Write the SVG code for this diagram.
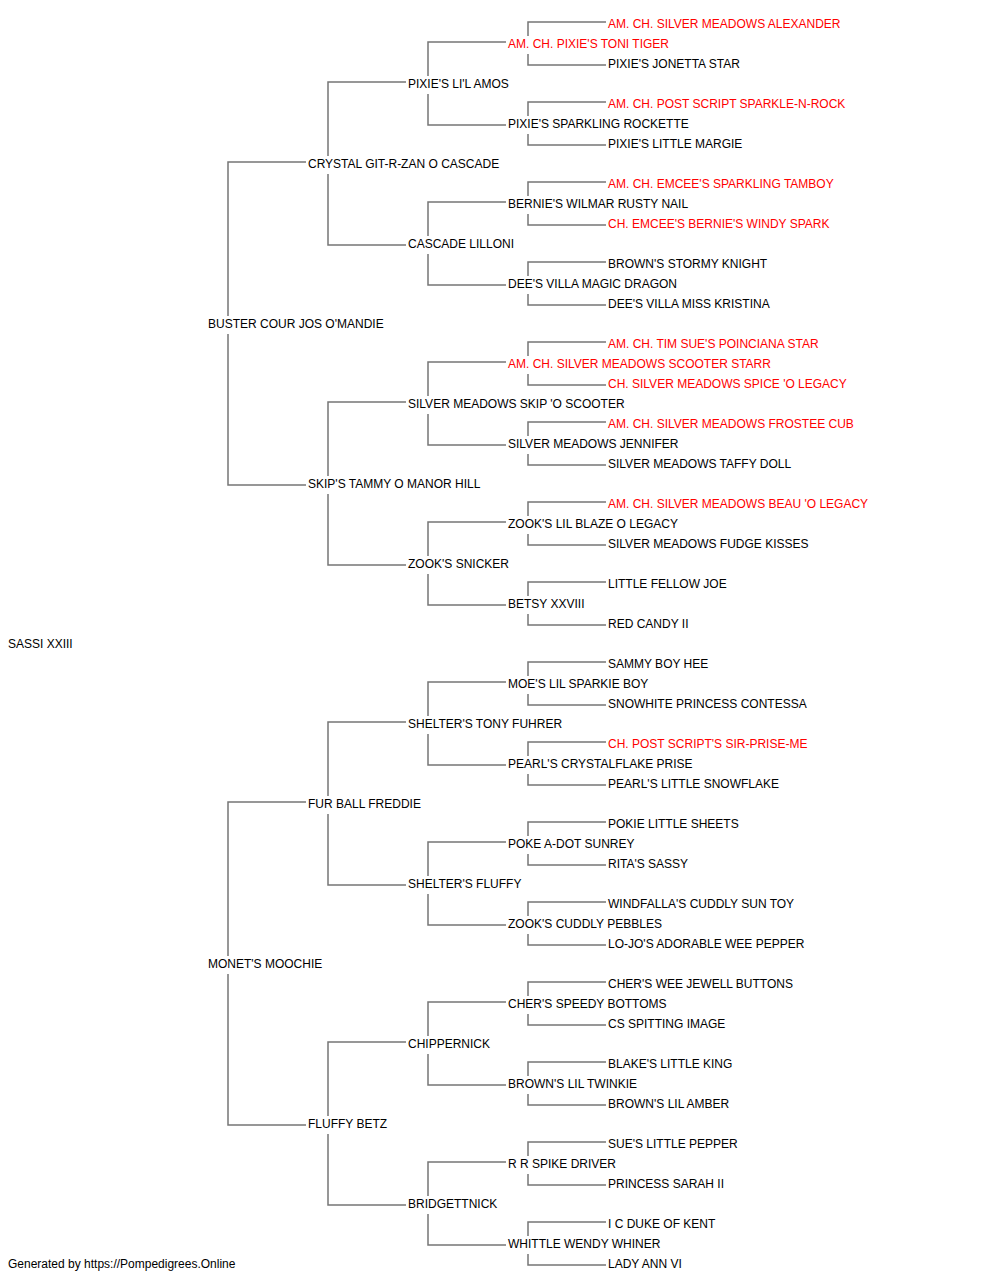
<svg xmlns="http://www.w3.org/2000/svg" width="1000" height="1280" viewBox="0 0 1000 1280">
<style>
text{font-family:"Liberation Sans",Arial,sans-serif;font-size:12px;fill:#000}
text.r{fill:#ff0000}
#connectors path{fill:none;stroke:#767676;stroke-width:1.5}
</style>
<rect width="1000" height="1280" fill="#fff"/>
<g id="connectors">
<path d="M228,316V162H306M228,334V485H306"/>
<path d="M228,956V802H306M228,974V1125H306"/>
<path d="M328,156V82H406M328,174V245H406"/>
<path d="M328,476V402H406M328,494V565H406"/>
<path d="M328,796V722H406M328,814V885H406"/>
<path d="M328,1116V1042H406M328,1134V1205H406"/>
<path d="M428,76V42H506M428,94V125H506"/>
<path d="M428,236V202H506M428,254V285H506"/>
<path d="M428,396V362H506M428,414V445H506"/>
<path d="M428,556V522H506M428,574V605H506"/>
<path d="M428,716V682H506M428,734V765H506"/>
<path d="M428,876V842H506M428,894V925H506"/>
<path d="M428,1036V1002H506M428,1054V1085H506"/>
<path d="M428,1196V1162H506M428,1214V1245H506"/>
<path d="M528,36V22H606M528,54V65H606"/>
<path d="M528,116V102H606M528,134V145H606"/>
<path d="M528,196V182H606M528,214V225H606"/>
<path d="M528,276V262H606M528,294V305H606"/>
<path d="M528,356V342H606M528,374V385H606"/>
<path d="M528,436V422H606M528,454V465H606"/>
<path d="M528,516V502H606M528,534V545H606"/>
<path d="M528,596V582H606M528,614V625H606"/>
<path d="M528,676V662H606M528,694V705H606"/>
<path d="M528,756V742H606M528,774V785H606"/>
<path d="M528,836V822H606M528,854V865H606"/>
<path d="M528,916V902H606M528,934V945H606"/>
<path d="M528,996V982H606M528,1014V1025H606"/>
<path d="M528,1076V1062H606M528,1094V1105H606"/>
<path d="M528,1156V1142H606M528,1174V1185H606"/>
<path d="M528,1236V1222H606M528,1254V1265H606"/>
</g>
<g id="n-sassi"><text x="8" y="648">SASSI XXIII</text></g>
<g id="n-buster"><text x="208" y="328">BUSTER COUR JOS O'MANDIE</text></g>
<g id="n-monet"><text x="208" y="968">MONET'S MOOCHIE</text></g>
<g id="n-crystal"><text x="308" y="168">CRYSTAL GIT-R-ZAN O CASCADE</text></g>
<g id="n-skips-tammy"><text x="308" y="488">SKIP'S TAMMY O MANOR HILL</text></g>
<g id="n-fur-ball"><text x="308" y="808">FUR BALL FREDDIE</text></g>
<g id="n-fluffy-betz"><text x="308" y="1128">FLUFFY BETZ</text></g>
<g id="n-lil-amos"><text x="408" y="88">PIXIE'S LI'L AMOS</text></g>
<g id="n-cascade-lilloni"><text x="408" y="248">CASCADE LILLONI</text></g>
<g id="n-skip-o-scooter"><text x="408" y="408">SILVER MEADOWS SKIP 'O SCOOTER</text></g>
<g id="n-zooks-snicker"><text x="408" y="568">ZOOK'S SNICKER</text></g>
<g id="n-tony-fuhrer"><text x="408" y="728">SHELTER'S TONY FUHRER</text></g>
<g id="n-shelters-fluffy"><text x="408" y="888">SHELTER'S FLUFFY</text></g>
<g id="n-chippernick"><text x="408" y="1048">CHIPPERNICK</text></g>
<g id="n-bridgettnick"><text x="408" y="1208">BRIDGETTNICK</text></g>
<g id="n-toni-tiger"><text class="r" x="508" y="48">AM. CH. PIXIE'S TONI TIGER</text></g>
<g id="n-sparkling-rockette"><text x="508" y="128">PIXIE'S SPARKLING ROCKETTE</text></g>
<g id="n-rusty-nail"><text x="508" y="208">BERNIE'S WILMAR RUSTY NAIL</text></g>
<g id="n-magic-dragon"><text x="508" y="288">DEE'S VILLA MAGIC DRAGON</text></g>
<g id="n-scooter-starr"><text class="r" x="508" y="368">AM. CH. SILVER MEADOWS SCOOTER STARR</text></g>
<g id="n-jennifer"><text x="508" y="448">SILVER MEADOWS JENNIFER</text></g>
<g id="n-lil-blaze"><text x="508" y="528">ZOOK'S LIL BLAZE O LEGACY</text></g>
<g id="n-betsy"><text x="508" y="608">BETSY XXVIII</text></g>
<g id="n-moes-sparkie"><text x="508" y="688">MOE'S LIL SPARKIE BOY</text></g>
<g id="n-crystalflake"><text x="508" y="768">PEARL'S CRYSTALFLAKE PRISE</text></g>
<g id="n-poke-a-dot"><text x="508" y="848">POKE A-DOT SUNREY</text></g>
<g id="n-cuddly-pebbles"><text x="508" y="928">ZOOK'S CUDDLY PEBBLES</text></g>
<g id="n-speedy-bottoms"><text x="508" y="1008">CHER'S SPEEDY BOTTOMS</text></g>
<g id="n-lil-twinkie"><text x="508" y="1088">BROWN'S LIL TWINKIE</text></g>
<g id="n-spike-driver"><text x="508" y="1168">R R SPIKE DRIVER</text></g>
<g id="n-wendy-whiner"><text x="508" y="1248">WHITTLE WENDY WHINER</text></g>
<g id="n-alexander"><text class="r" x="608" y="28">AM. CH. SILVER MEADOWS ALEXANDER</text></g>
<g id="n-jonetta"><text x="608" y="68">PIXIE'S JONETTA STAR</text></g>
<g id="n-sparkle-n-rock"><text class="r" x="608" y="108">AM. CH. POST SCRIPT SPARKLE-N-ROCK</text></g>
<g id="n-little-margie"><text x="608" y="148">PIXIE'S LITTLE MARGIE</text></g>
<g id="n-tamboy"><text class="r" x="608" y="188">AM. CH. EMCEE'S SPARKLING TAMBOY</text></g>
<g id="n-windy-spark"><text class="r" x="608" y="228">CH. EMCEE'S BERNIE'S WINDY SPARK</text></g>
<g id="n-stormy-knight"><text x="608" y="268">BROWN'S STORMY KNIGHT</text></g>
<g id="n-miss-kristina"><text x="608" y="308">DEE'S VILLA MISS KRISTINA</text></g>
<g id="n-poinciana"><text class="r" x="608" y="348">AM. CH. TIM SUE'S POINCIANA STAR</text></g>
<g id="n-spice-o-legacy"><text class="r" x="608" y="388">CH. SILVER MEADOWS SPICE 'O LEGACY</text></g>
<g id="n-frostee-cub"><text class="r" x="608" y="428">AM. CH. SILVER MEADOWS FROSTEE CUB</text></g>
<g id="n-taffy-doll"><text x="608" y="468">SILVER MEADOWS TAFFY DOLL</text></g>
<g id="n-beau-o-legacy"><text class="r" x="608" y="508">AM. CH. SILVER MEADOWS BEAU 'O LEGACY</text></g>
<g id="n-fudge-kisses"><text x="608" y="548">SILVER MEADOWS FUDGE KISSES</text></g>
<g id="n-fellow-joe"><text x="608" y="588">LITTLE FELLOW JOE</text></g>
<g id="n-red-candy"><text x="608" y="628">RED CANDY II</text></g>
<g id="n-sammy-boy"><text x="608" y="668">SAMMY BOY HEE</text></g>
<g id="n-snowhite"><text x="608" y="708">SNOWHITE PRINCESS CONTESSA</text></g>
<g id="n-sir-prise-me"><text class="r" x="608" y="748">CH. POST SCRIPT'S SIR-PRISE-ME</text></g>
<g id="n-little-snowflake"><text x="608" y="788">PEARL'S LITTLE SNOWFLAKE</text></g>
<g id="n-pokie-sheets"><text x="608" y="828">POKIE LITTLE SHEETS</text></g>
<g id="n-ritas-sassy"><text x="608" y="868">RITA'S SASSY</text></g>
<g id="n-windfalla"><text x="608" y="908">WINDFALLA'S CUDDLY SUN TOY</text></g>
<g id="n-wee-pepper"><text x="608" y="948">LO-JO'S ADORABLE WEE PEPPER</text></g>
<g id="n-jewell-buttons"><text x="608" y="988">CHER'S WEE JEWELL BUTTONS</text></g>
<g id="n-spitting-image"><text x="608" y="1028">CS SPITTING IMAGE</text></g>
<g id="n-blakes-king"><text x="608" y="1068">BLAKE'S LITTLE KING</text></g>
<g id="n-lil-amber"><text x="608" y="1108">BROWN'S LIL AMBER</text></g>
<g id="n-sues-pepper"><text x="608" y="1148">SUE'S LITTLE PEPPER</text></g>
<g id="n-sarah"><text x="608" y="1188">PRINCESS SARAH II</text></g>
<g id="n-duke-kent"><text x="608" y="1228">I C DUKE OF KENT</text></g>
<g id="n-lady-ann"><text x="608" y="1268">LADY ANN VI</text></g>
<text x="8" y="1268">Generated by https://Pompedigrees.Online</text>
</svg>
